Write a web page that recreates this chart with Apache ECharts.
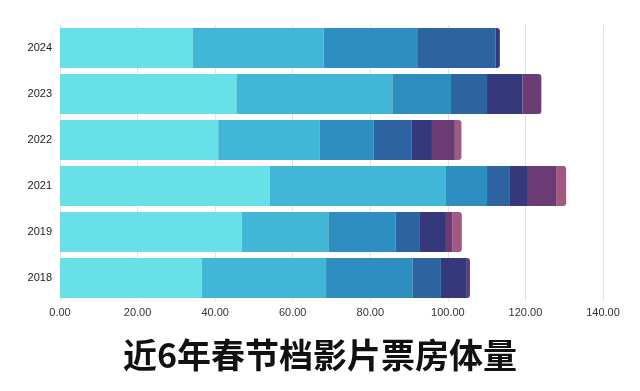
<!DOCTYPE html>
<html>
<head>
<meta charset="utf-8">
<script src="https://cdn.jsdelivr.net/npm/echarts@6/dist/echarts.min.js"></script>
<style>
html,body{margin:0;padding:0;background:#fff;}
#c{width:640px;height:391px;}
</style>
</head>
<body>
<div id="c"></div>
<script>
const categories = ['2018', '2019', '2021', '2022', '2023', '2024'];
const seg1 = [36.5, 46.9, 54.1, 40.8, 45.5, 34.2];
const seg2 = [32.1, 22.3, 45.4, 26.2, 40.2, 33.8];
const seg3 = [22.3, 17.3, 10.6, 13.8, 15.1, 24.3];
const seg4 = [7.3, 6.3, 5.9, 9.9, 9.3, 20.0];
const seg5 = [6.7, 6.7, 4.4, 5.2, 9.1, 1.1];
const seg6 = [0.8, 1.6, 7.5, 5.9, 4.9, 0];
const seg7 = [0, 2.5, 2.6, 1.7, 0, 0];
const xTicks = [0, 20, 40, 60, 80, 100, 120, 140];
const titleText = '近6年春节档影片票房体量';

const segs = [seg1, seg2, seg3, seg4, seg5, seg6, seg7];
const colors = ['#68e0e8', '#41b6d7', '#2e8ec1', '#2e63a1', '#35387a', '#6b3b73', '#a05a82'];

const lastIdx = categories.map((_, ci) => {
  let li = 0;
  segs.forEach((s, si) => { if (s[ci] > 0) li = si; });
  return li;
});

const series = segs.map((s, si) => ({
  type: 'bar',
  stack: 'total',
  barCategoryGap: '13%',
  itemStyle: { color: colors[si] },
  data: s.map((v, ci) => si === lastIdx[ci]
    ? { value: v, itemStyle: { borderRadius: [0, 3, 3, 0] } }
    : v)
}));

const chart = echarts.init(document.getElementById('c'), null, { renderer: 'canvas' });
chart.setOption({
  animation: false,
  backgroundColor: '#ffffff',
  title: {
    text: titleText,
    left: 'center',
    top: 333,
    textStyle: {
      fontSize: 34,
      fontWeight: 'bold',
      color: '#111',
      fontFamily: '"Noto Sans CJK SC", sans-serif'
    }
  },
  grid: { left: 60, right: 37, top: 25, bottom: 90, containLabel: false },
  xAxis: {
    type: 'value',
    min: xTicks[0],
    max: xTicks[xTicks.length - 1],
    interval: 20,
    axisLine: { show: false },
    axisTick: { show: false },
    splitLine: { show: true, lineStyle: { color: '#e2e2e2', width: 1 } },
    axisLabel: {
      color: '#333',
      fontSize: 11,
      margin: 6,
      fontFamily: 'Liberation Sans, Arial, sans-serif',
      formatter: v => v.toFixed(2)
    }
  },
  yAxis: {
    type: 'category',
    data: categories,
    axisLine: { show: false },
    axisTick: { show: false },
    axisLabel: {
      color: '#222',
      fontSize: 11,
      margin: 8,
      fontFamily: 'Liberation Sans, Arial, sans-serif'
    }
  },
  series: series
});
</script>
</body>
</html>
